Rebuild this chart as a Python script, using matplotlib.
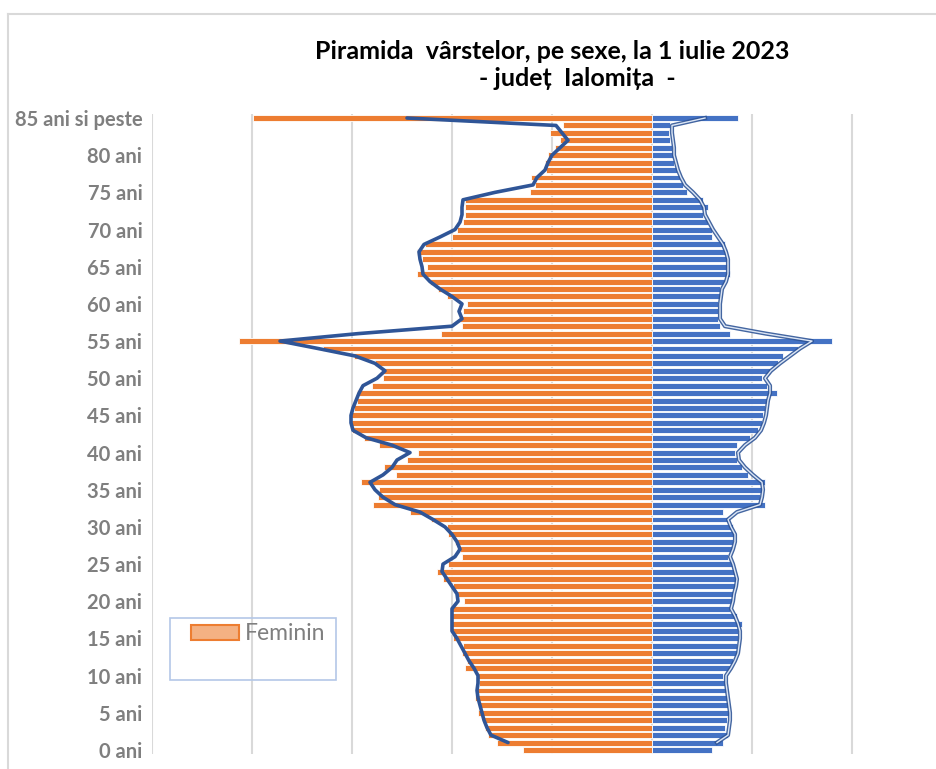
import matplotlib
matplotlib.use("Agg")
import matplotlib.pyplot as plt
from matplotlib.patches import Patch, Rectangle
from matplotlib.lines import Line2D
import numpy as np

plt.rcParams['font.family'] = ['Lato', 'DejaVu Sans']

# varste 0 .. 85+ (bare)
ages = list(range(86))
tick_ages = list(range(0, 86, 5))
tick_labels = [f"{a} ani" for a in tick_ages[:-1]] + ["85 ani si peste"]

feminin = [645, 775, 820, 835, 845, 870, 865, 885, 875, 865,
           870, 935, 925, 950, 945, 995, 1005, 1010, 1005, 1000,
           940, 975, 995, 1045, 1075, 1020, 950, 960, 985, 1020,
           1025, 1105, 1210, 1395, 1370, 1365, 1455, 1280, 1340, 1225,
           1170, 1365, 1440, 1500, 1505, 1505, 1490, 1475, 1475, 1400,
           1345, 1345, 1385, 1490, 1645, 2065, 1055, 950, 960, 945,
           925, 1025, 1070, 1110, 1175, 1125, 1150, 1175, 1135, 1000,
           975, 945, 935, 935, 935, 610, 585, 605, 530, 535,
           520, 485, 460, 510, 445, 1995]

masculin = [300, 355, 380, 365, 375, 390, 380, 380, 375, 365,
            355, 390, 405, 430, 425, 430, 430, 450, 425, 390,
            405, 410, 415, 425, 415, 405, 380, 405, 405, 415,
            405, 390, 355, 565, 540, 550, 565, 480, 450, 425,
            415, 425, 490, 530, 550, 555, 565, 575, 625, 575,
            550, 590, 630, 655, 730, 900, 390, 340, 330, 330,
            330, 340, 340, 365, 390, 380, 380, 375, 365, 300,
            300, 280, 255, 280, 255, 175, 155, 140, 125, 110,
            105, 100, 90, 85, 90, 430]

# liniile (varste 1 .. 85+)
line_ages = list(range(1, 86))
feminin_linie = [720, 805, 825, 840, 850, 860, 870, 875, 870, 870,
                 890, 915, 935, 955, 975, 1000, 1000, 1000, 1000, 970,
                 975, 1000, 1025, 1050, 1045, 985, 960, 975, 1000, 1035,
                 1095, 1160, 1285, 1345, 1385, 1410, 1345, 1300, 1275, 1210,
                 1300, 1430, 1495, 1505, 1505, 1495, 1480, 1465, 1445, 1375,
                 1335, 1385, 1485, 1670, 1860, 1470, 1000, 950, 965, 950,
                 1000, 1060, 1110, 1145, 1150, 1160, 1165, 1140, 1060, 985,
                 960, 950, 950, 945, 785, 595, 575, 535, 520, 500,
                 460, 420, 450, 480, 1225]

masculin_linie = [325, 380, 385, 390, 390, 385, 380, 375, 370, 370,
                  395, 415, 430, 435, 440, 440, 430, 415, 395, 405,
                  410, 420, 425, 415, 405, 390, 405, 415, 415, 395,
                  380, 425, 540, 550, 555, 550, 505, 465, 435, 430,
                  465, 515, 545, 560, 570, 575, 580, 590, 590, 565,
                  595, 640, 690, 740, 800, 570, 365, 340, 340, 340,
                  345, 350, 370, 380, 380, 380, 370, 355, 330, 305,
                  285, 265, 260, 240, 205, 165, 145, 130, 120, 110,
                  110, 105, 100, 100, 265]

W, H = 936, 769
fig = plt.figure(figsize=(W / 100, H / 100), dpi=100)
ax = fig.add_axes([152 / W, 1 - 753.7 / H, 784 / W, (753.7 - 114.3) / H])

for v in range(-2500, 1001, 500):
    ax.axvline(v, color='#D9D9D9', lw=1.5, zorder=0)

ax.barh(ages, -np.array(feminin), height=0.8, color='#ED7D31',
        edgecolor='white', linewidth=0.6, zorder=2)
ax.barh(ages, masculin, height=0.8, color='#4472C4',
        edgecolor='white', linewidth=0.6, zorder=2)

ax.plot(-np.array(feminin_linie), line_ages, color='#2F5597', lw=2.6,
        solid_joinstyle='round', solid_capstyle='round', zorder=3)
ax.plot(masculin_linie, line_ages, color='#2F5597', lw=3.0, alpha=0.9,
        solid_joinstyle='round', zorder=3)
ax.plot(masculin_linie, line_ages, color='#DCE6F5', lw=1.0,
        solid_joinstyle='round', zorder=4)

ax.set_xlim(-2500, 1420)
ax.set_ylim(-0.5, 85.5)
ax.set_xticks([])
ax.set_yticks(tick_ages, tick_labels)
ax.tick_params(axis='y', length=0, pad=7, labelcolor='#7F7F7F', labelsize=14.5)
for lab in ax.get_yticklabels():
    lab.set_fontweight('bold')
for s in ax.spines.values():
    s.set_visible(False)

# chenarul graficului
fig.add_artist(Line2D([8 / W, 8 / W], [0, 1 - 14 / H], color='#D9D9D9', lw=1.5))
fig.add_artist(Line2D([8 / W, 1], [1 - 14 / H, 1 - 14 / H], color='#D9D9D9', lw=1.5))

fig.text(552 / W, 1 - 59 / H, "Piramida  vârstelor, pe sexe, la 1 iulie 2023",
         ha='center', va='baseline', fontsize=18, fontweight='bold', color='black')
fig.text(577 / W, 1 - 86 / H, "- județ  Ialomița  -",
         ha='center', va='baseline', fontsize=18, fontweight='bold', color='black')

# legenda
fig.add_artist(Rectangle((170 / W, 1 - 680 / H), 166 / W, 62 / H, transform=fig.transFigure,
                         fill=False, edgecolor='#B4C7E7', lw=1.2))
handle = Patch(facecolor='#F4B183', edgecolor='#ED7D31', lw=1.5, label='Feminin')
ax.legend(handles=[handle], loc='center left', bbox_to_anchor=(191 / W, 1 - 634 / H),
          bbox_transform=fig.transFigure, frameon=False, borderpad=0, borderaxespad=0,
          handlelength=2.1, handleheight=0.6, handletextpad=0.25,
          prop={'size': 16.5}, labelcolor='#7F7F7F')

fig.savefig('out.png', dpi=100)
